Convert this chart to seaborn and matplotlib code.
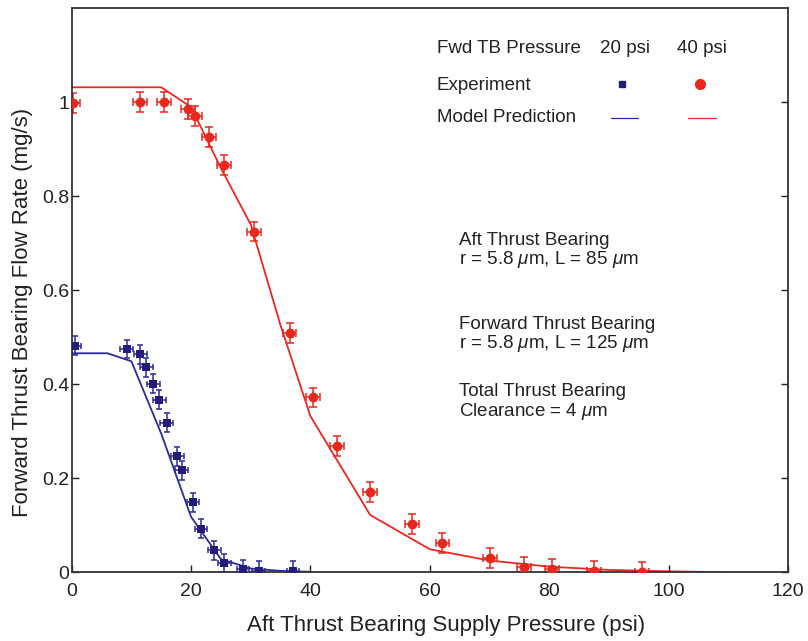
import matplotlib
matplotlib.use("Agg")
import matplotlib.pyplot as plt
import seaborn as sns
import pandas as pd
import numpy as np

# ---------------- data ----------------
# Experiment, Fwd TB pressure 20 psi
exp20_x = [0.55, 9.2, 11.5, 12.5, 13.7, 14.7, 15.9, 17.7, 18.4, 20.3, 21.7, 23.9, 25.6, 28.7, 31.3, 37.1]
exp20_y = [0.482, 0.475, 0.464, 0.436, 0.401, 0.367, 0.318, 0.247, 0.217, 0.149, 0.093, 0.047, 0.019, 0.006, 0.003, 0.003]
# Experiment, Fwd TB pressure 40 psi
exp40_x = [0.2, 11.4, 15.5, 19.5, 20.7, 23.0, 25.5, 30.5, 36.5, 40.4, 44.4, 50.0, 57.0, 62.1, 70.1, 75.8, 80.4, 87.5, 95.5]
exp40_y = [0.998, 1.0, 1.0, 0.986, 0.971, 0.927, 0.867, 0.725, 0.509, 0.372, 0.268, 0.171, 0.103, 0.063, 0.030, 0.012, 0.007, 0.002, 0.001]
# error bars
err20_x, err20_y = 1.05, 0.02
err40_x, err40_y = 1.15, 0.021
# Model prediction
mod20_x = [0, 6, 10, 15, 20, 25, 30, 35, 40]
mod20_y = [0.466, 0.466, 0.449, 0.295, 0.118, 0.028, 0.008, 0.003, 0.001]
mod40_x = [0, 15, 20, 25, 30, 35, 40, 50, 60, 70, 80, 90, 100, 110]
mod40_y = [1.032, 1.032, 0.99, 0.86, 0.74, 0.525, 0.332, 0.122, 0.049, 0.025, 0.012, 0.005, 0.002, 0.0]

x_ticks = [0, 20, 40, 60, 80, 100, 120]
y_ticks = [0, 0.2, 0.4, 0.6, 0.8, 1.0]
y_tick_labels = ["0", "0.2", "0.4", "0.6", "0.8", "1"]

RED = "#e8281e"
BLUE = "#231c78"
BLUE_LINE = "#2b2a9c"

# ---------------- style ----------------
sns.set_theme(style="ticks")
plt.rcParams["font.family"] = ["Liberation Sans", "DejaVu Sans"]
plt.rcParams["mathtext.fontset"] = "custom"
plt.rcParams["mathtext.rm"] = "Liberation Sans"
plt.rcParams["mathtext.it"] = "Liberation Sans:italic"

fig = plt.figure(figsize=(8.08, 6.41), dpi=100)
ax = fig.add_axes([0.0887, 0.1072, 0.8866, 0.8798])

m20 = pd.DataFrame({"x": mod20_x, "y": mod20_y})
m40 = pd.DataFrame({"x": mod40_x, "y": mod40_y})
e20 = pd.DataFrame({"x": exp20_x, "y": exp20_y})
e40 = pd.DataFrame({"x": exp40_x, "y": exp40_y})

sns.lineplot(data=m20, x="x", y="y", ax=ax, color=BLUE_LINE, lw=1.3, sort=False)
sns.lineplot(data=m40, x="x", y="y", ax=ax, color=RED, lw=1.3, sort=False)

ax.errorbar(e20["x"], e20["y"], xerr=err20_x, yerr=err20_y, fmt="none",
            ecolor=BLUE_LINE, elinewidth=1.1, capsize=2.0, capthick=1.1)
ax.errorbar(e40["x"], e40["y"], xerr=err40_x, yerr=err40_y, fmt="none",
            ecolor=RED, elinewidth=1.1, capsize=3.2, capthick=1.1)
sns.scatterplot(data=e20, x="x", y="y", ax=ax, marker="s", s=30, color=BLUE,
                edgecolor=BLUE, linewidth=0, zorder=3)
sns.scatterplot(data=e40, x="x", y="y", ax=ax, marker="o", s=50, color=RED,
                edgecolor=RED, linewidth=0, zorder=3)

ax.set_xlim(0, 120)
ax.set_ylim(0, 1.2)
ax.set_xticks(x_ticks)
ax.set_xticklabels([str(t) for t in x_ticks])
ax.set_yticks(y_ticks)
ax.set_yticklabels(y_tick_labels)
ax.tick_params(axis="x", direction="in", length=5, width=1.0, labelsize=14, pad=8, colors="#222222")
ax.tick_params(axis="y", direction="in", length=5, width=1.0, labelsize=14, pad=1.5,
               right=True, colors="#222222")
for sp in ax.spines.values():
    sp.set_visible(True)
    sp.set_linewidth(1.3)
    sp.set_color("#333333")

ax.set_xlabel("Aft Thrust Bearing Supply Pressure (psi)", fontsize=16, color="#222222")
ax.set_ylabel("Forward Thrust Bearing Flow Rate (mg/s)", fontsize=16, color="#222222")
ax.xaxis.set_label_coords(0.523, -0.076)
ax.yaxis.set_label_coords(-0.054, 0.46)

# legend (table-like)
tr = ax.transAxes
fs = 13.5
ax.text(0.5096, 0.928, "Fwd TB Pressure", transform=tr, fontsize=fs, va="center", ha="left", color="#222222")
ax.text(0.7375, 0.928, "20 psi", transform=tr, fontsize=fs, va="center", ha="left", color="#222222")
ax.text(0.845, 0.928, "40 psi", transform=tr, fontsize=fs, va="center", ha="left", color="#222222")
ax.text(0.5096, 0.864, "Experiment", transform=tr, fontsize=fs, va="center", ha="left", color="#222222")
ax.text(0.5096, 0.807, "Model Prediction", transform=tr, fontsize=fs, va="center", ha="left", color="#222222")
ax.plot([0.768], [0.866], transform=tr, marker="s", ms=5, color=BLUE, ls="none", clip_on=False)
ax.plot([0.877], [0.866], transform=tr, marker="o", ms=7, color=RED, ls="none", clip_on=False)
ax.plot([0.7525, 0.79], [0.805, 0.805], transform=tr, color=BLUE_LINE, lw=0.9)
ax.plot([0.8605, 0.899], [0.805, 0.805], transform=tr, color=RED, lw=0.9)

# annotations
ann = [
    (0.588, "Aft Thrust Bearing"),
    (0.554, r"r = 5.8 $\mathit{\mu}$m, L = 85 $\mathit{\mu}$m"),
    (0.4385, "Forward Thrust Bearing"),
    (0.405, r"r = 5.8 $\mathit{\mu}$m, L = 125 $\mathit{\mu}$m"),
    (0.320, "Total Thrust Bearing"),
    (0.2848, r"Clearance = 4 $\mathit{\mu}$m"),
]
for yy, s in ann:
    ax.text(0.5407, yy, s, transform=tr, fontsize=fs, va="center", ha="left", color="#222222")

fig.savefig("out.png", dpi=100)
